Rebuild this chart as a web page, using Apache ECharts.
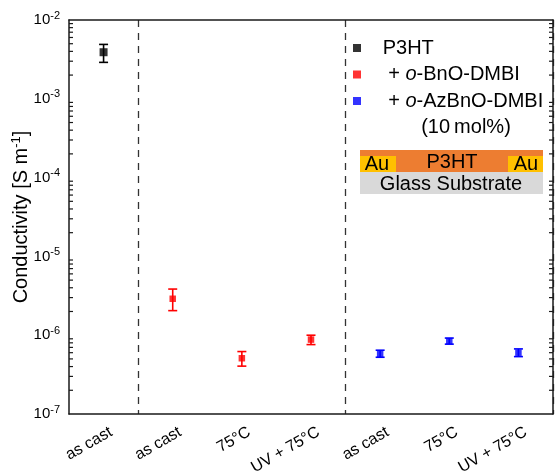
<!DOCTYPE html>
<html>
<head>
<meta charset="utf-8">
<script src="https://cdn.jsdelivr.net/npm/echarts@6/dist/echarts.min.js"></script>
<style>
  html, body { margin: 0; padding: 0; background: #fff; }
  #chart { width: 555px; height: 471px; }
</style>
</head>
<body>
<div id="chart"></div>
<script>
// Sample conditions along the x axis
const categories = ['as cast', 'as cast', '75°C', 'UV + 75°C', 'as cast', '75°C', 'UV + 75°C'];

// Pristine P3HT
const p3htX = [0];
const p3htVal = [3.9e-3];
const p3htLo = [2.9e-3];
const p3htHi = [4.9e-3];

// P3HT + o-BnO-DMBI
const bnoX = [1, 2, 3];
const bnoVal = [2.9e-6, 5.1e-7, 8.8e-7];
const bnoLo = [2.05e-6, 4.05e-7, 7.6e-7];
const bnoHi = [3.85e-6, 6.2e-7, 1.0e-6];

// P3HT + o-AzBnO-DMBI
const azX = [4, 5, 6];
const azVal = [5.8e-7, 8.4e-7, 6.0e-7];
const azLo = [5.25e-7, 7.7e-7, 5.35e-7];
const azHi = [6.45e-7, 9.2e-7, 6.7e-7];

// Series names shown in the legend
const seriesNames = ['P3HT', '+ o-BnO-DMBI', '+ o-AzBnO-DMBI'];

// Group separators sit on these category boundaries
const separatorTicks = [1, 4];

// Log axis range (decades)
const yMin = 1e-7, yMax = 1e-2;

const FONT = 'Arial, "Liberation Sans", sans-serif';

// Minor tick values 2..9 x 10^n inside each decade
const minorTicks = [];
for (let e = Math.round(Math.log10(yMin)); e < Math.round(Math.log10(yMax)); e++) {
  for (let k = 2; k <= 9; k++) minorTicks.push([0, k * Math.pow(10, e)]);
}

function pts(xs, vals) { return xs.map((x, i) => [x, vals[i]]); }
function errs(xs, lo, hi) { return xs.map((x, i) => [x, lo[i], hi[i]]); }

function errorBarSeries(name, color, data) {
  return {
    type: 'custom',
    name: name,
    data: data,
    z: 3,
    itemStyle: { color: color },
    encode: { x: 0, y: [1, 2] },
    renderItem: function (params, api) {
      const lo = api.coord([api.value(0), api.value(1)]);
      const hi = api.coord([api.value(0), api.value(2)]);
      const cap = 4.5;
      const style = { stroke: color, lineWidth: 1.6 };
      return {
        type: 'group',
        children: [
          { type: 'line', shape: { x1: lo[0], y1: lo[1], x2: hi[0], y2: hi[1] }, style: style },
          { type: 'line', shape: { x1: lo[0] - cap, y1: lo[1], x2: lo[0] + cap, y2: lo[1] }, style: style },
          { type: 'line', shape: { x1: hi[0] - cap, y1: hi[1], x2: hi[0] + cap, y2: hi[1] }, style: style }
        ]
      };
    }
  };
}

function scatterSeries(name, color, data, size) {
  return {
    type: 'scatter',
    name: name,
    data: data,
    symbol: 'rect',
    symbolSize: size,
    itemStyle: { color: color },
    z: 4
  };
}

const supLabel = function (v) {
  const e = Math.round(Math.log10(v));
  return '{b|10}{s|' + e + '}';
};

const axisLineStyle = { color: '#1a1a1a', width: 1.5 };
const tickLineStyle = { color: '#1a1a1a', width: 1.2 };

const chart = echarts.init(document.getElementById('chart'), null, { renderer: 'canvas' });

chart.setOption({
  animation: false,
  backgroundColor: '#fff',
  textStyle: { fontFamily: FONT },
  grid: { left: 69, right: 2, top: 20, bottom: 57, containLabel: false, outerBoundsMode: 'none' },
  legend: {
    orient: 'vertical',
    left: 353,
    top: 38,
    padding: 0,
    itemWidth: 8,
    itemHeight: 8,
    itemGap: 6.5,
    icon: 'rect',
    data: seriesNames,
    formatter: function (name) {
      const pad = name.charAt(0) === '+' ? '    ' : '   ';
      return pad + name.replace('o-', '{i|o}-');
    },
    textStyle: {
      fontFamily: FONT, fontSize: 20, color: '#000', lineHeight: 20,
      rich: { i: { fontStyle: 'italic', fontFamily: FONT, fontSize: 20, color: '#000' } }
    }
  },
  xAxis: [
    {
      type: 'category',
      data: categories,
      boundaryGap: true,
      axisLine: { lineStyle: axisLineStyle },
      axisTick: { inside: true, length: 7, alignWithLabel: true, lineStyle: tickLineStyle },
      axisLabel: {
        rotate: 30, fontSize: 16, color: '#000', margin: 12, fontFamily: FONT,
        interval: 0, verticalAlign: 'top', hideOverlap: false, padding: [0, -4, 0, 0]
      },
      splitLine: {
        show: true,
        interval: function (index) { return separatorTicks.indexOf(index) >= 0; },
        lineStyle: { color: '#333', width: 1.3, type: [7, 6] }
      }
    },
    {
      type: 'category',
      data: categories,
      position: 'top',
      boundaryGap: true,
      axisLine: { lineStyle: axisLineStyle },
      axisTick: { inside: true, length: 7, alignWithLabel: true, lineStyle: tickLineStyle },
      axisLabel: { show: false },
      splitLine: { show: false }
    }
  ],
  yAxis: [
    {
      type: 'log',
      logBase: 10,
      min: yMin,
      max: yMax,
      name: '{n|Conductivity [S m}{s|-1}{n|]}',
      nameLocation: 'middle',
      nameGap: 36,
      nameMoveOverlap: false,
      nameTextStyle: {
        rich: {
          n: { fontSize: 20, color: '#000', fontFamily: FONT },
          s: { fontSize: 13, color: '#000', fontFamily: FONT, padding: [0, 0, 10, 0] }
        }
      },
      axisLine: { show: true, lineStyle: axisLineStyle },
      axisTick: { inside: true, length: 8, lineStyle: tickLineStyle },
      splitLine: { show: false },
      axisLabel: {
        formatter: supLabel,
        margin: 9,
        rich: {
          b: { fontSize: 15, color: '#000', fontFamily: FONT },
          s: { fontSize: 11, color: '#000', fontFamily: FONT, padding: [0, 0, 9, 0] }
        }
      }
    },
    {
      type: 'log',
      logBase: 10,
      min: yMin,
      max: yMax,
      position: 'right',
      axisLine: { show: true, lineStyle: axisLineStyle },
      axisTick: { inside: true, length: 8, lineStyle: tickLineStyle },
      axisLabel: { show: false },
      splitLine: { show: false }
    }
  ],
  series: [
    scatterSeries(seriesNames[0], '#000000', pts(p3htX, p3htVal), 8),
    scatterSeries(seriesNames[1], '#ff0000', pts(bnoX, bnoVal), 6.5),
    scatterSeries(seriesNames[2], '#0000ff', pts(azX, azVal), 6.5),
    errorBarSeries(seriesNames[0], '#000000', errs(p3htX, p3htLo, p3htHi)),
    errorBarSeries(seriesNames[1], '#ff0000', errs(bnoX, bnoLo, bnoHi)),
    errorBarSeries(seriesNames[2], '#0000ff', errs(azX, azLo, azHi)),
    // minor ticks of the log axes, both sides
    {
      type: 'custom',
      name: 'minor ticks',
      data: minorTicks,
      silent: true,
      z: 2,
      renderItem: function (params, api) {
        const y = api.coord([0, api.value(1)])[1];
        const cs = params.coordSys;
        const style = { stroke: '#1a1a1a', lineWidth: 1.2 };
        return {
          type: 'group',
          children: [
            { type: 'line', shape: { x1: cs.x, y1: y, x2: cs.x + 4, y2: y }, style: style },
            { type: 'line', shape: { x1: cs.x + cs.width, y1: y, x2: cs.x + cs.width - 4, y2: y }, style: style }
          ]
        };
      }
    }
  ],
  graphic: [
    {
      type: 'text', x: 466, y: 127,
      style: { text: '(10\u2009mol%)', font: '20px ' + FONT, fill: '#000', align: 'center', verticalAlign: 'middle' }
    },
    // device cross-section
    { type: 'rect', shape: { x: 360, y: 150, width: 183, height: 22 }, style: { fill: '#ed7d31' } },
    { type: 'rect', shape: { x: 360, y: 156, width: 36, height: 16 }, style: { fill: '#ffc000' } },
    { type: 'rect', shape: { x: 508, y: 156, width: 35, height: 16 }, style: { fill: '#ffc000' } },
    { type: 'rect', shape: { x: 360, y: 172, width: 183, height: 22 }, style: { fill: '#d9d9d9' } },
    { type: 'text', x: 377, y: 164, style: { text: 'Au', font: '20px ' + FONT, fill: '#000', align: 'center', verticalAlign: 'middle' } },
    { type: 'text', x: 526, y: 164, style: { text: 'Au', font: '20px ' + FONT, fill: '#000', align: 'center', verticalAlign: 'middle' } },
    { type: 'text', x: 452, y: 162, style: { text: 'P3HT', font: '20px ' + FONT, fill: '#000', align: 'center', verticalAlign: 'middle' } },
    { type: 'text', x: 451, y: 184, style: { text: 'Glass Substrate', font: '20px ' + FONT, fill: '#000', align: 'center', verticalAlign: 'middle' } }
  ]
});
</script>
</body>
</html>
